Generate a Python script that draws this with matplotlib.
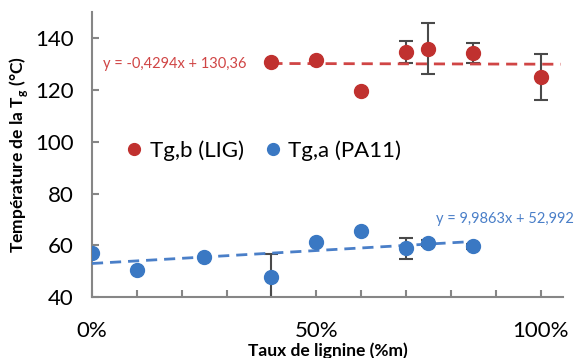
import numpy as np
import matplotlib
matplotlib.use('Agg')
import matplotlib.pyplot as plt
import matplotlib.ticker as ticker

plt.rcParams['font.family'] = ['Lato', 'DejaVu Sans']

# Tg,b (LIG) -- red series
lig_x = [0.40, 0.50, 0.60, 0.70, 0.75, 0.85, 1.00]
lig_tg = [130.7, 131.7, 119.4, 134.6, 135.9, 134.2, 125.0]
lig_err = [0, 0, 0, 4.2, 9.8, 3.8, 8.9]

# Tg,a (PA11) -- blue series
pa_x = [0.0, 0.10, 0.25, 0.40, 0.50, 0.60, 0.70, 0.75, 0.85]
pa_tg = [57.1, 50.4, 55.5, 47.6, 61.1, 65.6, 58.8, 60.9, 59.7]
pa_err = [0, 0, 0, 9.0, 0, 0, 4.0, 1.0, 1.0]

# trendline coefficients shown on chart
lig_fit = (-0.4294, 130.36)
pa_fit = (9.9863, 52.992)

RED = '#C0312F'
BLUE = '#3A78C3'
RED_LINE = '#D04545'
BLUE_LINE = '#4A7FC8'
AX_GRAY = '#868686'

fig = plt.figure(figsize=(5.75, 3.58), dpi=100)
ax = fig.add_axes([0.16, 0.17, 0.819, 0.796])

# error bars (only where there is one)
for xs, ys, es in ((lig_x, lig_tg, lig_err), (pa_x, pa_tg, pa_err)):
    xs, ys, es = np.array(xs), np.array(ys), np.array(es)
    m = es > 0
    ax.errorbar(xs[m], ys[m], yerr=es[m], fmt='none', ecolor='#4a4a4a',
                elinewidth=1.5, capsize=5, capthick=1.5, zorder=2)

# trendlines
xr = np.array([0.40, 1.045])
ax.plot(xr, lig_fit[0] * xr + lig_fit[1], ls=(0, (4, 2.5)), color=RED_LINE, lw=2, zorder=3)
xb = np.array([0.0, 0.85])
ax.plot(xb, pa_fit[0] * xb + pa_fit[1], ls=(0, (4, 2.5)), color=BLUE_LINE, lw=2, zorder=3)

ax.plot(lig_x, lig_tg, 'o', color=RED, ms=10, mec=RED, label='Tg,b (LIG)', zorder=4)
ax.plot(pa_x, pa_tg, 'o', color=BLUE, ms=10, mec=BLUE, label='Tg,a (PA11)', zorder=4)

ax.text(0.025, 130.0, 'y = -0,4294x + 130,36', color=RED_LINE, fontsize=10.5,
        va='center', ha='left')
ax.text(1.075, 70.0, 'y = 9,9863x + 52,992', color=BLUE_LINE, fontsize=10.5,
        va='center', ha='right', clip_on=False)

ax.set_xlim(0, 1.05)
ax.set_ylim(40, 150)
ax.xaxis.set_major_locator(ticker.FixedLocator([0, 0.5, 1.0]))
ax.xaxis.set_minor_locator(ticker.MultipleLocator(0.1))
ax.xaxis.set_major_formatter(ticker.PercentFormatter(1.0, decimals=0))
ax.yaxis.set_major_locator(ticker.MultipleLocator(20))

for s in ('top', 'right'):
    ax.spines[s].set_visible(False)
for s in ('left', 'bottom'):
    ax.spines[s].set_color(AX_GRAY)
    ax.spines[s].set_linewidth(1.5)

ax.tick_params(axis='both', which='both', direction='in', color=AX_GRAY,
               width=1.5, length=5, labelsize=16)
ax.tick_params(axis='x', which='major', pad=17)
ax.tick_params(axis='y', pad=13)
ax.set_ylim(40, 150)
ax.set_yticks([40, 60, 80, 100, 120, 140])

ax.set_ylabel('Température de la T$_\\mathregular{g}$ (°C)', fontsize=12.5,
              fontweight='bold', labelpad=4)
ax.set_xlabel('Taux de lignine (%m)', fontsize=12.5, fontweight='bold', labelpad=1)

ax.legend(loc='center left', bbox_to_anchor=(0.033, 0.515), ncol=2, frameon=False,
          fontsize=16, handlelength=0.6, handletextpad=0.4, columnspacing=1.0,
          markerscale=0.85)

fig.savefig('out.png', dpi=100)
